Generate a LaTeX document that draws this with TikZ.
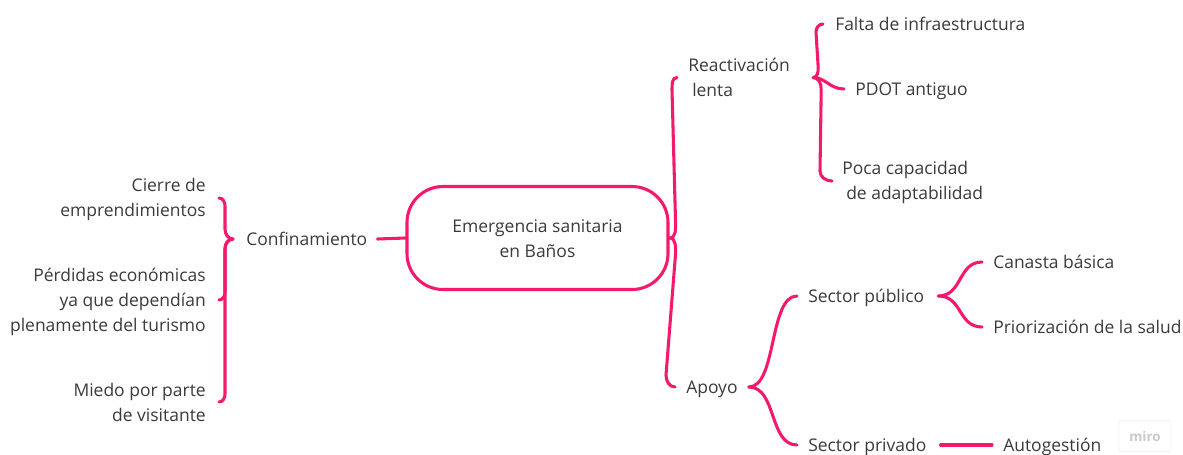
\documentclass[tikz,border=0pt]{standalone}
\usepackage{fontspec}
\setmainfont{Open Sans}
\usetikzlibrary{calc}
\definecolor{pk}{RGB}{245,25,110}
\definecolor{tx}{RGB}{58,58,58}
\definecolor{logo}{RGB}{200,200,210}
\definecolor{logobox}{RGB}{240,240,243}
\newcommand\st{\rule[-2.5pt]{0pt}{15pt}}
\begin{document}
\begin{tikzpicture}[x=0.75pt,y=-0.75pt,
  lbl/.style={inner sep=0pt, text=tx, font=\fontsize{13.1}{18.75}\selectfont},
  lblR/.style={lbl, anchor=east, align=right},
  lblL/.style={lbl, anchor=west, align=left},
  link/.style={draw=pk, line width=2.3pt, line cap=round},
  hub/.style={lbl, draw=pk, line width=2.3pt, rounded corners=27pt,
    minimum width=195.75pt, minimum height=77.25pt, align=center}]
\useasboundingbox (0,0) rectangle (1183,454);

% nodes
\node[hub] (hub) at (537.5,238) {\st Emergencia sanitaria\\\st en Baños};
\node[lblL] (conf) at (246,239) {\st Confinamiento};
\node[lblR] (cierre) at (206,198) {\st Cierre de\\\st emprendimientos};
\node[lblR] (perd) at (206,300) {\st Pérdidas económicas\\ya que dependían\\\st plenamente del turismo};
\node[lblR] (miedo) at (206,402) {\st Miedo por parte\\\st de visitante};
\node[lblL] (reac) at (688,77.5) {\st Reactivación\\\st\hspace{3pt}lenta};
\node[lblL] (falta) at (835,24) {\st Falta de infraestructura};
\node[lblL] (pdot) at (855,89) {\st PDOT antiguo};
\node[lblL] (poca) at (842,181) {\st Poca capacidad\\\st\hspace{3pt}de adaptabilidad};
\node[lblL] (apoyo) at (686,387) {\st Apoyo};
\node[lblL] (spub) at (808,296) {\st Sector público};
\node[lblL] (spriv) at (808,445) {\st Sector privado};
\node[lblL] (canasta) at (993,262) {\st Canasta básica};
\node[lblL] (prior) at (993,327) {\st Priorización de la salud};
\node[lblL] (auto) at (1003,445) {\st Autogestión};
\node[draw=logobox, line width=0.6pt, rounded corners=1.5pt, text=logo,
  font=\bfseries\fontsize{10}{12}\selectfont, minimum width=39pt, minimum height=23pt,
  inner sep=0pt] (miro) at (1145,436) {miro};

% connector end points
\coordinate (ct) at ($(conf.west)+(-13,0)$);
\coordinate (ce) at ($(cierre.east)+(13,0)$);
\coordinate (pe) at ($(perd.east)+(13,0)$);
\coordinate (me) at ($(miedo.east)+(13,0)$);
\coordinate (re) at ($(reac.west)+(-11,0)$);
\coordinate (ae) at ($(apoyo.west)+(-11,0)$);
\coordinate (rt) at ($(reac.east)+(23,0)$);
\coordinate (fe) at ($(falta.west)+(-12,0)$);
\coordinate (de) at ($(pdot.west)+(-11,0)$);
\coordinate (oe) at ($(poca.west)+(-10,0)$);
\coordinate (at) at ($(apoyo.east)+(11,0)$);
\coordinate (ue) at ($(spub.west)+(-11,0)$);
\coordinate (ve) at ($(spriv.west)+(-11,0)$);
\coordinate (ut) at ($(spub.east)+(14,0)$);
\coordinate (ke) at ($(canasta.west)+(-11,0)$);
\coordinate (ze) at ($(prior.west)+(-11,0)$);

% hub - Confinamiento
\draw[link] ($(conf.east)+(10,0)$) -- (hub.west);
% Confinamiento brace
\draw[link] (ct) to[out=180,in=-90] ($(ct)+(-8,-10)$) -- ($(ce)+(6,8)$) to[out=90,in=0] (ce);
\draw[link] (ct) to[out=180,in=90] ($(ct)+(-8,10)$) -- ($(pe)+(6,-8)$) to[out=-90,in=0] (pe);
\draw[link] (ct) to[out=180,in=90] ($(ct)+(-8,10)$) -- ($(me)+(6,-8)$) to[out=-90,in=0] (me);
% hub right brace
\draw[link] (hub.east) to[out=0,in=-90] ($(hub.east)+(6,-16)$) -- ($(re)+(-5,12)$) to[out=90,in=180] (re);
\draw[link] (hub.east) to[out=0,in=90] ($(hub.east)+(6,16)$) -- ($(ae)+(-9,-12)$) to[out=-90,in=180] (ae);
% Reactivacion children
\draw[link] (rt) to[out=0,in=-90] ($(rt)+(5,-10)$) -- ($(fe)+(-7,8)$) to[out=90,in=180] (fe);
\draw[link] (rt) .. controls +(12,0) and +(-14,0) .. (de);
\draw[link] (rt) to[out=0,in=90] ($(rt)+(8,12)$) -- ($(oe)+(-12,-10)$) to[out=-90,in=180] (oe);
% Apoyo children
\draw[link] (at) .. controls +(28,0) and +(-28,0) .. (ue);
\draw[link] (at) .. controls +(28,0) and +(-28,0) .. (ve);
% Sector publico children
\draw[link] (ut) .. controls +(24,0) and +(-24,0) .. (ke);
\draw[link] (ut) .. controls +(24,0) and +(-24,0) .. (ze);
% Sector privado - Autogestion
\draw[link] ($(spriv.east)+(14,0)$) -- ($(auto.west)+(-11,0)$);
\end{tikzpicture}
\end{document}
